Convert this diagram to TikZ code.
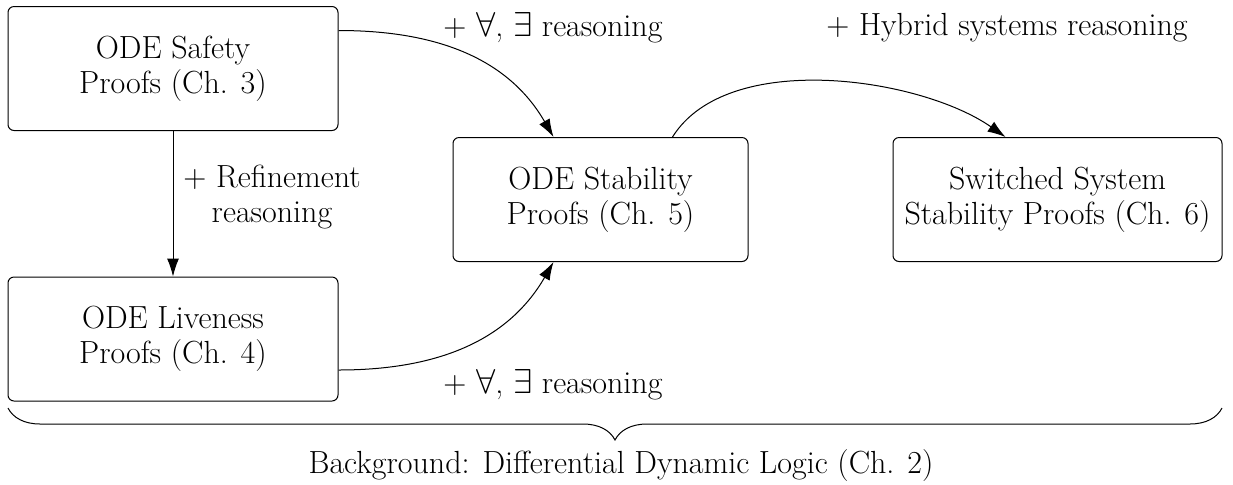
\documentclass[tikz,border=0pt]{standalone}
\usetikzlibrary{arrows.meta,decorations.pathreplacing}
\begin{document}
\begin{tikzpicture}[x=0.5pt,y=-0.5pt,
  txt/.style={font=\fontsize{16}{17.5}\selectfont},
  box/.style={txt, draw, rounded corners=3pt, line width=0.5pt, minimum height=62pt, align=center, inner sep=0pt},
  lbl/.style={txt, align=center, inner sep=0pt},
  conn/.style={line width=0.5pt, -{Latex[length=9pt,width=6pt]}}]
\useasboundingbox (0,0) rectangle (1233,484);
\node[box, minimum width=165pt] (safety) at (173,68.5) {ODE Safety\\Proofs (Ch. 3)};
\node[box, minimum width=165pt] (liveness) at (173,339) {ODE Liveness\\Proofs (Ch. 4)};
\node[box, minimum width=147.5pt] (stability) at (600.5,199.5) {ODE Stability\\Proofs (Ch. 5)};
\node[box, minimum width=164.5pt] (switched) at (1057.5,199.5) {Switched System\\Stability Proofs (Ch. 6)};

\draw[conn] (safety) -- (liveness);
\node[lbl] (lref) at (272,197) {+ Refinement\\reasoning};

\draw[conn] ([yshift=19pt]safety.east) to[out=0,in=120] ([xshift=-23.5pt]stability.north);
\node[lbl] (lfa) at (553,28) {+ $\forall$, $\exists$ reasoning};

\draw[conn] ([yshift=-15.5pt]liveness.east) to[out=0,in=-120] ([xshift=-23.5pt]stability.south);
\node[lbl] (lfb) at (553,385) {+ $\forall$, $\exists$ reasoning};

\draw[conn] ([xshift=36pt]stability.north) to[out=58,in=145,looseness=0.8] ([xshift=-26pt]switched.north);
\node[lbl] (lhy) at (1007,28) {+ Hybrid systems reasoning};

\coordinate (bl) at (8,408);
\coordinate (br) at (1222,408);
\draw[line width=0.5pt, decorate, decoration={brace, mirror, amplitude=16pt}] (bl) -- (br);
\node[lbl] (bg) at (621,466) {Background: Differential Dynamic Logic (Ch. 2)};
\end{tikzpicture}
\end{document}
